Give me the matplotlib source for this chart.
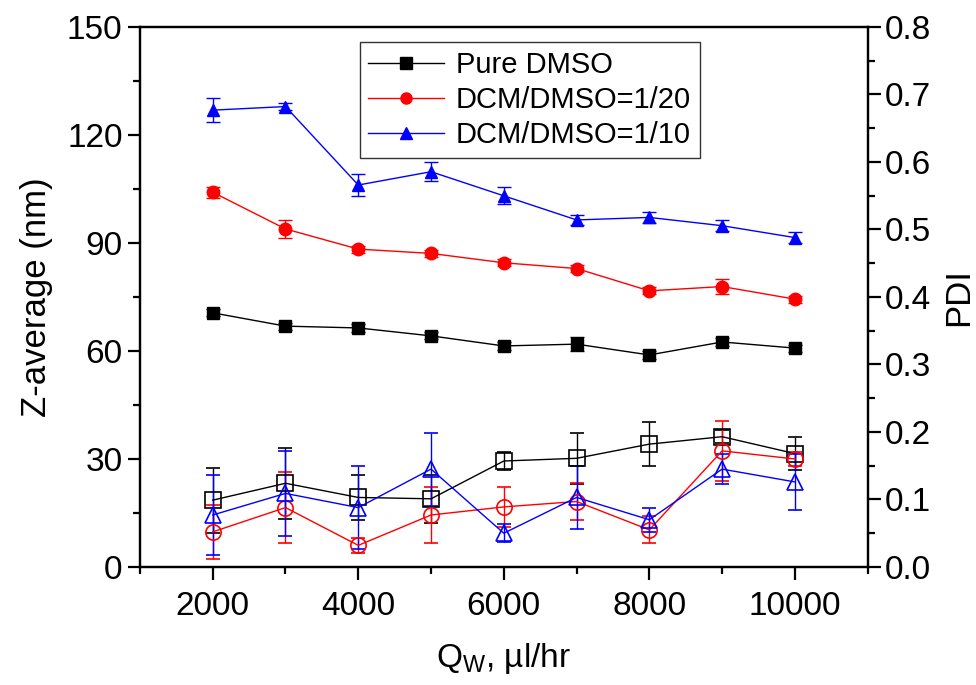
import matplotlib
matplotlib.use("Agg")
import matplotlib.pyplot as plt
from matplotlib.ticker import MultipleLocator
from matplotlib.lines import Line2D

plt.rcParams['font.family'] = ['Liberation Sans', 'DejaVu Sans']

# Water flow rate Q_W (µl/hr)
qw = [2000, 3000, 4000, 5000, 6000, 7000, 8000, 9000, 10000]

# Z-average size (nm) and standard deviation
z_pure = [70.6, 66.9, 66.4, 64.2, 61.4, 61.9, 58.9, 62.5, 60.8]
z_pure_err = [1.0, 1.0, 1.0, 1.0, 1.0, 2.0, 1.0, 1.0, 1.0]
z_1_20 = [104.1, 93.9, 88.3, 87.1, 84.5, 82.9, 76.7, 77.9, 74.4]
z_1_20_err = [1.5, 2.4, 1.0, 1.0, 1.0, 1.0, 1.0, 2.0, 1.0]
z_1_10 = [126.9, 127.9, 106.1, 109.8, 103.1, 96.4, 97.1, 94.8, 91.5]
z_1_10_err = [3.3, 1.0, 3.0, 2.6, 2.4, 1.5, 1.5, 1.5, 1.5]

# Polydispersity index and standard deviation
pdi_pure = [0.099, 0.124, 0.103, 0.101, 0.157, 0.161, 0.182, 0.193, 0.168]
pdi_pure_err = [0.048, 0.053, 0.033, 0.036, 0.013, 0.038, 0.033, 0.010, 0.025]
pdi_1_20 = [0.052, 0.088, 0.032, 0.077, 0.089, 0.097, 0.055, 0.172, 0.160]
pdi_1_20_err = [0.040, 0.052, 0.011, 0.042, 0.030, 0.028, 0.020, 0.044, 0.010]
pdi_1_10 = [0.077, 0.109, 0.088, 0.145, 0.050, 0.103, 0.070, 0.145, 0.126]
pdi_1_10_err = [0.060, 0.063, 0.062, 0.054, 0.013, 0.047, 0.018, 0.022, 0.041]

labels = ['Pure DMSO', 'DCM/DMSO=1/20', 'DCM/DMSO=1/10']
colors = ['black', 'red', 'blue']
markers = ['s', 'o', '^']

fig = plt.figure(figsize=(9.76, 6.85), dpi=100)
ax = fig.add_axes([0.1434, 0.1723, 0.7456, 0.7883])
ax2 = ax.twinx()

z_data = [(z_pure, z_pure_err), (z_1_20, z_1_20_err), (z_1_10, z_1_10_err)]
p_data = [(pdi_pure, pdi_pure_err), (pdi_1_20, pdi_1_20_err), (pdi_1_10, pdi_1_10_err)]

for (y, e), c, m in zip(z_data, colors, markers):
    ax.errorbar(qw, y, yerr=e, color=c, marker=m, markersize=9,
                lw=1.0, elinewidth=1.0, capsize=5, capthick=1.0,
                markerfacecolor=c, markeredgecolor=c)

for (y, e), c, m in zip(p_data, colors, markers):
    ax2.errorbar(qw, y, yerr=e, color=c, marker=m, markersize=11,
                 lw=1.0, elinewidth=1.0, capsize=5, capthick=1.0,
                 markerfacecolor='none', markeredgecolor=c, markeredgewidth=1.2)

ax.set_xlim(1000, 11000)
ax.set_ylim(0, 150)
ax2.set_ylim(0, 0.8)

ax.xaxis.set_major_locator(MultipleLocator(2000))
ax.xaxis.set_minor_locator(MultipleLocator(1000))
ax.yaxis.set_major_locator(MultipleLocator(30))
ax.yaxis.set_minor_locator(MultipleLocator(15))
ax2.yaxis.set_major_locator(MultipleLocator(0.1))
ax2.yaxis.set_minor_locator(MultipleLocator(0.05))
ax2.yaxis.set_major_formatter(plt.FormatStrFormatter('%.1f'))

for a in (ax, ax2):
    for s in a.spines.values():
        s.set_linewidth(1.6)
    a.tick_params(which='major', length=9, width=1.6, labelsize=24, direction='out')
    a.tick_params(which='minor', length=5, width=1.6, direction='out')
ax.tick_params(axis='x', pad=8)

ax.set_xlabel(r'Q$_\mathregular{W}$, µl/hr', fontsize=24, labelpad=14)
ax.set_ylabel('Z-average (nm)', fontsize=25, labelpad=10)
ax2.set_ylabel('PDI', fontsize=25, labelpad=8)

handles = [Line2D([], [], color=c, marker=m, markersize=8, lw=1.0,
                  markerfacecolor=c, markeredgecolor=c, label=lab)
           for c, m, lab in zip(colors, markers, labels)]
leg = ax.legend(handles=handles, loc='upper left', bbox_to_anchor=(0.302, 0.972),
                fontsize=21, frameon=True, fancybox=False, edgecolor='black',
                handlelength=2.6, borderpad=0.3, labelspacing=0.25, handletextpad=0.4,
                borderaxespad=0.0)
leg.get_frame().set_linewidth(1.0)

fig.savefig('out.png', dpi=100)
